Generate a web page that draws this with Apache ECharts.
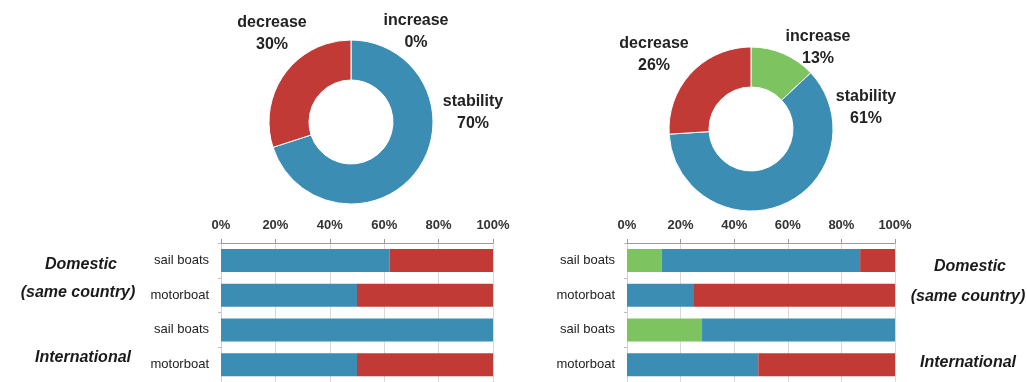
<!DOCTYPE html>
<html>
<head>
<meta charset="utf-8">
<script src="https://cdn.jsdelivr.net/npm/echarts@6/dist/echarts.min.js"></script>
<style>
  html, body { margin: 0; padding: 0; background: #fff; }
  #chart { width: 1027px; height: 382px; }
</style>
</head>
<body>
<div id="chart"></div>
<script>
// Outlook split by increase / stability / decrease
const sliceNames = ['increase', 'stability', 'decrease'];
const leftDonut = [0, 70, 30];
const rightDonut = [13, 61, 26];

// Boat type rows (top to bottom): domestic sail, domestic motor, international sail, international motor
const boatTypes = ['sail boats', 'motorboat', 'sail boats', 'motorboat'];
const leftIncrease = [0, 0, 0, 0];
const leftStability = [62, 50, 100, 50];
const leftDecrease = [38, 50, 0, 50];
const rightIncrease = [13, 0, 28, 0];
const rightStability = [74, 25, 72, 49];
const rightDecrease = [13, 75, 0, 51];

const groupTitles = ['Domestic', '(same country)', 'International'];

const GREEN = '#7dc35f';
const BLUE = '#3b8db4';
const RED = '#c23a35';
const sliceColors = [GREEN, BLUE, RED];
const FONT = '"Liberation Sans", Arial, sans-serif';

const chart = echarts.init(document.getElementById('chart'), null, { renderer: 'canvas' });

// label anchor points around each donut
const leftLabelPos = [[416, 32], [473, 113], [272, 34]];
const rightLabelPos = [[818, 48], [866, 108], [654, 55]];

function donut(values, center, labelPos) {
  return {
    type: 'pie',
    center: center,
    radius: [42, 82],
    startAngle: 90,
    clockwise: true,
    avoidLabelOverlap: false,
    itemStyle: { borderColor: '#fff', borderWidth: 1 },
    label: {
      show: true,
      formatter: '{b}\n{c}%',
      color: '#222',
      fontFamily: FONT,
      fontWeight: 'bold',
      fontSize: 16,
      lineHeight: 22,
      align: 'center'
    },
    labelLine: { show: false },
    labelLayout: function (p) {
      const pos = labelPos[p.dataIndex];
      return { x: pos[0], y: pos[1], align: 'center', verticalAlign: 'middle' };
    },
    emphasis: { disabled: true },
    data: values.map((v, i) => ({ name: sliceNames[i], value: v, itemStyle: { color: sliceColors[i] } }))
  };
}

function valueAxis(gridIndex) {
  return {
    type: 'value',
    gridIndex: gridIndex,
    position: 'top',
    min: 0, max: 100, interval: 20,
    axisLine: { show: true, lineStyle: { color: '#9a9a9a', width: 1 } },
    axisTick: { show: true, length: 4, lineStyle: { color: '#9a9a9a' } },
    splitLine: { show: true, lineStyle: { color: '#d8d8d8', width: 1 } },
    axisLabel: {
      formatter: '{value}%',
      color: '#333',
      fontFamily: FONT,
      fontWeight: 'bold',
      fontSize: 13,
      margin: 11
    }
  };
}

function categoryAxis(gridIndex) {
  return {
    type: 'category',
    gridIndex: gridIndex,
    inverse: true,
    data: boatTypes,
    axisLine: { show: true, lineStyle: { color: '#d0d0d0' } },
    axisTick: { show: true, length: 3, lineStyle: { color: '#bbb' } },
    axisLabel: { color: '#222', fontFamily: FONT, fontSize: 13, margin: 12 }
  };
}

function bar(name, data, color, idx) {
  return {
    type: 'bar',
    name: name,
    xAxisIndex: idx,
    yAxisIndex: idx,
    stack: 'share' + idx,
    barWidth: 23,
    data: data,
    itemStyle: { color: color },
    emphasis: { disabled: true }
  };
}

function groupText(text, x, y) {
  return {
    type: 'text',
    x: x, y: y,
    style: {
      text: text,
      fill: '#1a1a1a',
      font: 'italic bold 16px ' + FONT,
      align: 'center',
      verticalAlign: 'middle'
    }
  };
}

chart.setOption({
  animation: false,
  backgroundColor: '#fff',
  grid: [
    { left: 221, top: 243, width: 272, height: 146 },
    { left: 627, top: 243, width: 268, height: 146 }
  ],
  xAxis: [valueAxis(0), valueAxis(1)],
  yAxis: [categoryAxis(0), categoryAxis(1)],
  series: [
    donut(leftDonut, [351, 122], leftLabelPos),
    donut(rightDonut, [751, 129], rightLabelPos),
    bar('increase', leftIncrease, GREEN, 0),
    bar('stability', leftStability, BLUE, 0),
    bar('decrease', leftDecrease, RED, 0),
    bar('increase', rightIncrease, GREEN, 1),
    bar('stability', rightStability, BLUE, 1),
    bar('decrease', rightDecrease, RED, 1)
  ],
  graphic: [
    groupText(groupTitles[0], 81, 265),
    groupText(groupTitles[1], 78, 293),
    groupText(groupTitles[2], 83, 358),
    groupText(groupTitles[0], 970, 267),
    groupText(groupTitles[1], 968, 297),
    groupText(groupTitles[2], 968, 363)
  ]
});
</script>
</body>
</html>
